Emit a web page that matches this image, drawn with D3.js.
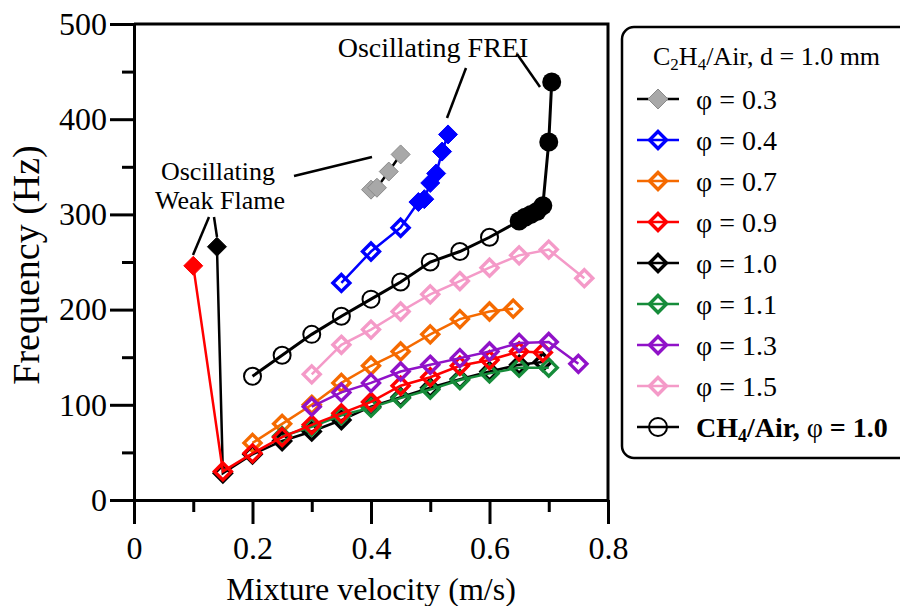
<!DOCTYPE html>
<html>
<head>
<meta charset="utf-8">
<script src="https://cdn.jsdelivr.net/npm/d3@7"></script>
<style>
  html, body { margin: 0; padding: 0; background: #fff; }
  svg { display: block; }
  text { font-family: "Liberation Serif", "Times New Roman", serif; fill: #000; }
</style>
</head>
<body>
<svg id="chart" width="900" height="606"></svg>
<script>
// ---------------- DATA ----------------
const xTicksMajor = [0, 0.2, 0.4, 0.6, 0.8];
const xTicksMinor = [0.1, 0.3, 0.5, 0.7];
const yTicksMajor = [0, 100, 200, 300, 400, 500];
const yTicksMinor = [50, 150, 250, 350, 450];

// [velocity m/s, frequency Hz]
const phi03Osc  = [[0.40, 326], [0.41, 328], [0.43, 345], [0.45, 363]];
const phi04     = [[0.35, 228], [0.40, 261], [0.45, 286]];
const phi04Osc  = [[0.48, 313], [0.49, 316], [0.50, 333], [0.51, 343], [0.52, 366], [0.53, 384]];
const phi07     = [[0.20, 60], [0.25, 80], [0.30, 100], [0.35, 123], [0.40, 141], [0.45, 156], [0.50, 174], [0.55, 190], [0.60, 198], [0.64, 201]];
const phi09Osc  = [[0.10, 246]];
const phi09     = [[0.15, 30], [0.20, 49], [0.25, 66], [0.30, 79], [0.35, 91], [0.40, 103], [0.45, 120], [0.50, 129], [0.55, 141], [0.60, 147], [0.65, 156], [0.69, 155]];
const phi10Osc  = [[0.14, 266]];
const phi10     = [[0.15, 28], [0.20, 48], [0.25, 62], [0.30, 72], [0.35, 84], [0.40, 98], [0.45, 108], [0.50, 118], [0.55, 127], [0.60, 135], [0.65, 142], [0.69, 145]];
const phi11     = [[0.25, 67], [0.30, 77], [0.35, 89], [0.40, 97], [0.45, 107], [0.50, 116], [0.55, 126], [0.60, 133], [0.65, 139], [0.70, 139]];
const phi13     = [[0.30, 98], [0.35, 113], [0.40, 123], [0.45, 135], [0.50, 142], [0.55, 149], [0.60, 156], [0.65, 165], [0.70, 166], [0.75, 143]];
const phi15     = [[0.30, 132], [0.35, 163], [0.40, 179], [0.45, 198], [0.50, 216], [0.55, 230], [0.60, 244], [0.65, 257], [0.70, 263], [0.76, 233]];
const ch4       = [[0.20, 130], [0.25, 152], [0.30, 174], [0.35, 193], [0.40, 211], [0.45, 229], [0.50, 250], [0.55, 261], [0.60, 276]];
const ch4Osc    = [[0.65, 293], [0.66, 297], [0.67, 300], [0.68, 303], [0.69, 309], [0.70, 376], [0.705, 439]];

const legendLabels = ["φ = 0.3", "φ = 0.4", "φ = 0.7", "φ = 0.9", "φ = 1.0", "φ = 1.1", "φ = 1.3", "φ = 1.5"];

// ---------------- STYLE TABLE ----------------
const C = {
  gray: "#a8a8a8", blue: "#0000ff", orange: "#f56a00", red: "#ff0000",
  black: "#000000", green: "#168c3a", purple: "#9012c8", pink: "#f49ac8"
};
// drawing order (z-order)
const seriesTable = [
  { open: [], filled: phi03Osc, color: C.gray, line: "#000", marker: "diamond" },
  { open: phi04, filled: phi04Osc, color: C.blue, line: C.blue, marker: "diamond" },
  { open: phi07, filled: [], color: C.orange, line: C.orange, marker: "diamond" },
  { open: phi10, filled: phi10Osc, color: C.black, line: C.black, marker: "diamond" },
  { open: phi11, filled: [], color: C.green, line: C.green, marker: "diamond" },
  { open: phi09, filled: phi09Osc, color: C.red, line: C.red, marker: "diamond" },
  { open: phi13, filled: [], color: C.purple, line: C.purple, marker: "diamond" },
  { open: phi15, filled: [], color: C.pink, line: C.pink, marker: "diamond" },
  { open: ch4, filled: ch4Osc, color: C.black, line: C.black, marker: "circle" }
];
const legendTable = [
  { color: C.gray, line: "#000", filled: true },
  { color: C.blue, line: C.blue },
  { color: C.orange, line: C.orange },
  { color: C.red, line: C.red },
  { color: C.black, line: C.black },
  { color: C.green, line: C.green },
  { color: C.purple, line: C.purple },
  { color: C.pink, line: C.pink }
];

// ---------------- CHART ----------------
const svg = d3.select("#chart");
const x = d3.scaleLinear().domain([0, 0.8]).range([134, 608]);
const y = d3.scaleLinear().domain([0, 500]).range([500, 24]);

const diamondPath = r => `M0,${-r}L${r},0L0,${r}L${-r},0Z`;

// frame (top & right)
svg.append("path")
  .attr("d", `M${x(0)},${y(500)}H${x(0.8)}V${y(0)}`)
  .attr("fill", "none").attr("stroke", "#000").attr("stroke-width", 3);

// axes
function styleAxis(g) {
  g.select(".domain").attr("stroke", "#000").attr("stroke-width", 3);
  g.selectAll(".tick line").attr("stroke", "#000").attr("stroke-width", 3);
  g.selectAll(".tick text").style("font-family", "Liberation Serif").style("font-size", "32px").attr("fill", "#000");
}
svg.append("g").attr("transform", `translate(0,${y(0)})`)
  .call(d3.axisBottom(x).tickValues(xTicksMinor).tickSize(12).tickFormat("").tickSizeOuter(0))
  .call(styleAxis);
svg.append("g").attr("transform", `translate(0,${y(0)})`)
  .call(d3.axisBottom(x).tickValues(xTicksMajor).tickSize(24).tickPadding(12).tickSizeOuter(0)
    .tickFormat(d => d === 0 ? "0" : d3.format(".1f")(d)))
  .call(styleAxis);
svg.append("g").attr("transform", `translate(${x(0)},0)`)
  .call(d3.axisLeft(y).tickValues(yTicksMinor).tickSize(12).tickFormat("").tickSizeOuter(0))
  .call(styleAxis);
svg.append("g").attr("transform", `translate(${x(0)},0)`)
  .call(d3.axisLeft(y).tickValues(yTicksMajor).tickSize(24).tickPadding(3).tickSizeOuter(0))
  .call(styleAxis);

// axis titles
svg.append("text").attr("x", 371).attr("y", 600).attr("text-anchor", "middle")
  .style("font-size", "32px").text("Mixture velocity (m/s)");
svg.append("text").attr("transform", "translate(39,265) rotate(-90)").attr("text-anchor", "middle")
  .style("font-size", "38px").text("Frequency (Hz)");

// series
const lineGen = d3.line().x(d => x(d[0])).y(d => y(d[1]));
seriesTable.forEach(s => {
  const all = s.open.concat(s.filled).sort((a, b) => a[0] - b[0]);
  const g = svg.append("g");
  g.append("path").attr("d", lineGen(all)).attr("fill", "none")
    .attr("stroke", s.line).attr("stroke-width", s.marker === "circle" ? 3 : 2.5);
  if (s.marker === "diamond") {
    g.selectAll(".o").data(s.open).join("path")
      .attr("transform", d => `translate(${x(d[0])},${y(d[1])})`)
      .attr("d", diamondPath(8.5)).attr("fill", "none")
      .attr("stroke", s.color).attr("stroke-width", 3.4);
    g.selectAll(".f").data(s.filled).join("path")
      .attr("transform", d => `translate(${x(d[0])},${y(d[1])})`)
      .attr("d", diamondPath(9.5)).attr("fill", s.color)
      .attr("stroke", s.color === C.gray ? "#8a8a8a" : s.color).attr("stroke-width", 1);
  } else {
    g.selectAll(".o").data(s.open).join("circle")
      .attr("cx", d => x(d[0])).attr("cy", d => y(d[1])).attr("r", 8.5)
      .attr("fill", "none").attr("stroke", s.color).attr("stroke-width", 2);
    g.selectAll(".f").data(s.filled).join("circle")
      .attr("cx", d => x(d[0])).attr("cy", d => y(d[1])).attr("r", 9.5)
      .attr("fill", s.color);
  }
});

// annotations
svg.append("text").attr("x", 433).attr("y", 57).attr("text-anchor", "middle")
  .style("font-size", "28px").text("Oscillating FREI");
svg.append("text").attr("x", 218).attr("y", 180).attr("text-anchor", "middle")
  .style("font-size", "26px").text("Oscillating");
svg.append("text").attr("x", 220).attr("y", 209).attr("text-anchor", "middle")
  .style("font-size", "26px").text("Weak Flame");
const callouts = [
  [[466, 68], [447, 118]],
  [[517, 54], [540, 87]],
  [[294, 176], [372, 157]],
  [[209, 217], [193, 255]],
  [[214, 217], [217, 237]]
];
svg.selectAll(".callout").data(callouts).join("line")
  .attr("x1", d => d[0][0]).attr("y1", d => d[0][1])
  .attr("x2", d => d[1][0]).attr("y2", d => d[1][1])
  .attr("stroke", "#000").attr("stroke-width", 2.5);

// legend
const lg = svg.append("g");
lg.append("rect").attr("x", 622).attr("y", 27).attr("width", 300).attr("height", 431)
  .attr("rx", 12).attr("fill", "#fff").attr("stroke", "#000").attr("stroke-width", 2.5);
const title = lg.append("text").attr("x", 653).attr("y", 65).style("font-size", "26px");
title.append("tspan").text("C");
title.append("tspan").attr("dy", 5).style("font-size", "17px").text("2");
title.append("tspan").attr("dy", -5).text("H");
title.append("tspan").attr("dy", 5).style("font-size", "17px").text("4");
title.append("tspan").attr("dy", -5).text("/Air, d = 1.0 mm");

const rowY = i => 99 + i * 41;
legendTable.forEach((s, i) => {
  const yy = rowY(i);
  lg.append("line").attr("x1", 637).attr("x2", 679).attr("y1", yy).attr("y2", yy)
    .attr("stroke", s.line).attr("stroke-width", 2.5);
  lg.append("path").attr("transform", `translate(658,${yy})`)
    .attr("d", diamondPath(s.filled ? 10 : 8.5))
    .attr("fill", s.filled ? s.color : "none")
    .attr("stroke", s.filled ? "#8a8a8a" : s.color).attr("stroke-width", s.filled ? 1 : 3.4);
  lg.append("text").attr("x", 696).attr("y", yy + 10).style("font-size", "28px").text(legendLabels[i]);
});
{
  const yy = rowY(8);
  lg.append("line").attr("x1", 637).attr("x2", 679).attr("y1", yy).attr("y2", yy)
    .attr("stroke", "#000").attr("stroke-width", 2.5);
  lg.append("circle").attr("cx", 658).attr("cy", yy).attr("r", 9)
    .attr("fill", "none").attr("stroke", "#000").attr("stroke-width", 2);
  const t = lg.append("text").attr("x", 696).attr("y", yy + 10).style("font-size", "28px");
  t.append("tspan").style("font-weight", "bold").text("CH");
  t.append("tspan").attr("dy", 5).style("font-weight", "bold").style("font-size", "18px").text("4");
  t.append("tspan").attr("dy", -5).style("font-weight", "bold").text("/Air, ");
  t.append("tspan").text("φ");
  t.append("tspan").style("font-weight", "bold").text(" = 1.0");
}
</script>
</body>
</html>
